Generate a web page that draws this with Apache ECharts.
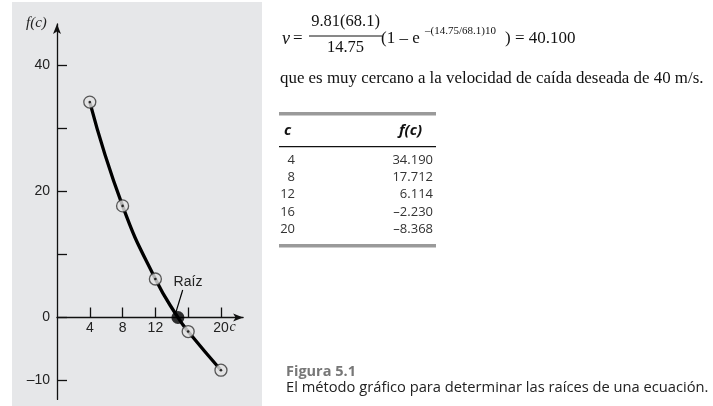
<!DOCTYPE html>
<html>
<head>
<meta charset="utf-8">
<script src="https://cdn.jsdelivr.net/npm/echarts@6/dist/echarts.min.js"></script>
<style>
html,body{margin:0;padding:0;background:#fff;}
#chart{width:713px;height:406px;}
</style>
</head>
<body>
<div id="chart"></div>
<script>
// ---- data ----
const cValues = [4, 8, 12, 16, 20];
const fValues = [34.190, 17.712, 6.114, -2.230, -8.368];
const fLabels = ['34.190', '17.712', '6.114', '–2.230', '–8.368'];
const rootC = 14.75;
const xTickValues = [4, 8, 12, 16, 20];
const xLabelValues = [4, 8, 12, 20];
const yTickValues = [-10, 0, 10, 20, 30, 40];
const yLabelValues = [-10, 0, 20, 40];

const pts = cValues.map((c, i) => [c, fValues[i]]);
const curve = pts.concat([[rootC, 0]]).sort((a, b) => a[0] - b[0]);

const chart = echarts.init(document.getElementById('chart'), null, {renderer: 'canvas'});

const serif = '"Liberation Serif", "DejaVu Serif", serif';
const sans = '"Liberation Sans", Arial, sans-serif';
const tsans = '"Open Sans", "Noto Sans", sans-serif';

const gridTop = 23.9, gridH = 375.5;
const zeroY = 317.5;
const xOffset = -(gridTop + gridH - zeroY);

const graphics = [
  {type: 'rect', z: -10, shape: {x: 12, y: 2, width: 250, height: 404}, style: {fill: '#e6e7e9'}},
  {type: 'text', x: 26, y: 23, style: {text: 'f(c)', font: 'italic 15px ' + serif, fill: '#222', verticalAlign: 'middle'}},
  {type: 'text', x: 229.5, y: 327, style: {text: 'c', font: 'italic 14px ' + serif, fill: '#222', verticalAlign: 'middle'}},
  // equation
  {type: 'text', x: 282, y: 39, style: {text: 'v', font: 'italic 18px ' + serif, fill: '#111', verticalAlign: 'middle'}},
  {type: 'text', x: 293, y: 39, style: {text: '=', font: '17px ' + serif, fill: '#111', verticalAlign: 'middle'}},
  {type: 'text', x: 345.5, y: 22, style: {text: '9.81(68.1)', font: '16.5px ' + serif, fill: '#111', align: 'center', verticalAlign: 'middle'}},
  {type: 'line', shape: {x1: 309, y1: 36, x2: 382, y2: 36}, style: {stroke: '#111', lineWidth: 1}},
  {type: 'text', x: 345.5, y: 48, style: {text: '14.75', font: '16.5px ' + serif, fill: '#111', align: 'center', verticalAlign: 'middle'}},
  {type: 'text', x: 381, y: 39, style: {text: '(1 – e', font: '17px ' + serif, fill: '#111', verticalAlign: 'middle'}},
  {type: 'text', x: 425, y: 31, style: {text: '–(14.75/68.1)10', font: '11px ' + serif, fill: '#111', verticalAlign: 'middle'}},
  {type: 'text', x: 505, y: 39, style: {text: ') = 40.100', font: '17px ' + serif, fill: '#111', verticalAlign: 'middle'}},
  {type: 'text', x: 280, y: 79, style: {text: 'que es muy cercano a la velocidad de caída deseada de 40 m/s.', font: '16.9px ' + serif, fill: '#111', verticalAlign: 'middle'}},
  // table
  {type: 'rect', shape: {x: 279, y: 112, width: 157, height: 3.5}, style: {fill: '#9a9a9a'}},
  {type: 'text', x: 284, y: 131, style: {text: 'c', font: 'italic bold 15px ' + tsans, fill: '#111', verticalAlign: 'middle'}},
  {type: 'text', x: 422, y: 131, style: {text: 'f(c)', font: 'italic bold 15px ' + tsans, fill: '#111', align: 'right', verticalAlign: 'middle'}},
  {type: 'rect', shape: {x: 279, y: 146, width: 157, height: 1.2}, style: {fill: '#111'}},
  {type: 'rect', shape: {x: 279, y: 244, width: 157, height: 3.5}, style: {fill: '#9a9a9a'}},
  // caption
  {type: 'text', x: 286, y: 372, style: {text: 'Figura 5.1', font: 'bold 14.5px ' + tsans, fill: '#777', verticalAlign: 'middle'}},
  {type: 'text', x: 286, y: 388, style: {text: 'El método gráfico para determinar las raíces de una ecuación.', font: '14.7px ' + tsans, fill: '#222', verticalAlign: 'middle'}}
];
const rowY = [160, 177.3, 194.6, 211.9, 229.2];
cValues.forEach((c, i) => {
  graphics.push({type: 'text', x: 295, y: rowY[i], style: {text: String(c), font: '13px ' + tsans, fill: '#333', align: 'right', verticalAlign: 'middle'}});
  graphics.push({type: 'text', x: 433, y: rowY[i], style: {text: fLabels[i], font: '13px ' + tsans, fill: '#333', align: 'right', verticalAlign: 'middle'}});
});

const option = {
  animation: false,
  backgroundColor: '#fff',
  grid: {left: 57, top: gridTop, width: 186.1, height: gridH, outerBoundsMode: 'none', containLabel: false},
  xAxis: {
    type: 'value', min: 0, max: 22.7, offset: xOffset,
    axisLine: {onZero: false, symbol: ['none', 'arrow'], symbolSize: [6, 10], lineStyle: {color: '#111', width: 1.3}},
    axisTick: {show: true, inside: true, length: 10, customValues: xTickValues, lineStyle: {color: '#111', width: 1.3}},
    axisLabel: {customValues: xLabelValues, margin: 4, fontSize: 14, fontFamily: sans, color: '#222'},
    splitLine: {show: false}
  },
  yAxis: {
    type: 'value', min: -13, max: 46.6,
    axisLine: {onZero: false, symbol: ['none', 'arrow'], symbolSize: [6, 10], lineStyle: {color: '#111', width: 1.3}},
    axisTick: {show: true, inside: true, length: 10, customValues: yTickValues, lineStyle: {color: '#111', width: 1.3}},
    axisLabel: {customValues: yLabelValues, margin: 7, fontSize: 14, fontFamily: sans, color: '#222',
      formatter: v => v < 0 ? '–' + (-v) : String(v)},
    splitLine: {show: false}
  },
  series: [
    {type: 'line', data: curve, smooth: 0.5, showSymbol: false, z: 2,
      lineStyle: {color: '#000', width: 3.3},
      markLine: {silent: true, symbol: ['none', 'arrow'], symbolSize: [0, 7],
        lineStyle: {color: '#000', width: 1.2, type: 'solid'}, label: {show: false},
        data: [[{coord: [15.33, 4.37]}, {coord: [14.52, 0.9]}]]},
      markPoint: {symbol: 'circle', symbolSize: 0,
        label: {show: true, formatter: 'Raíz', color: '#222', fontSize: 14, fontFamily: sans, position: 'inside'},
        data: [{coord: [15.98, 5.6]}]}
    },
    {type: 'scatter', data: pts, symbolSize: 12, z: 3,
      itemStyle: {color: '#e2e2e2', borderColor: '#333', borderWidth: 1.3}},
    {type: 'scatter', data: pts, symbolSize: 2.6, z: 4, itemStyle: {color: '#000'}},
    {type: 'scatter', data: [[rootC, 0]], symbolSize: 13, z: 4, itemStyle: {color: '#000'}}
  ],
  graphic: graphics
};
chart.setOption(option);
</script>
</body>
</html>
